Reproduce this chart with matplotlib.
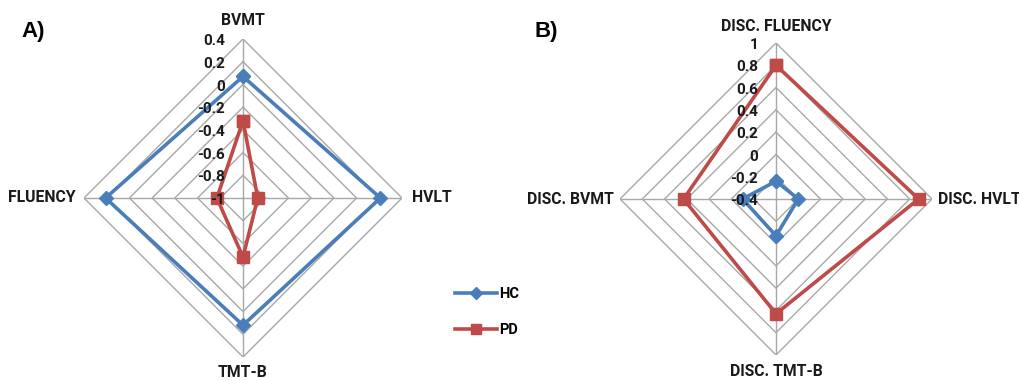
import numpy as np
import matplotlib
matplotlib.use("Agg")
import matplotlib.pyplot as plt
from matplotlib.lines import Line2D

# ---- data ----
cats_a = ["BVMT", "HVLT", "TMT-B", "FLUENCY"]
hc_a = [0.07, 0.21, 0.12, 0.21]
pd_a = [-0.32, -0.87, -0.48, -0.77]
ticks_a = [-1, -0.8, -0.6, -0.4, -0.2, 0, 0.2, 0.4]
ticklabels_a = ["-1", "-0.8", "-0.6", "-0.4", "-0.2", "0", "0.2", "0.4"]

cats_b = ["DISC. FLUENCY", "DISC. HVLT", "DISC. TMT-B", "DISC. BVMT"]
hc_b = [-0.24, -0.2, -0.07, -0.1]
pd_b = [0.8, 0.88, 0.63, 0.43]
ticks_b = [-0.4, -0.2, 0, 0.2, 0.4, 0.6, 0.8, 1]
ticklabels_b = ["-0.4", "-0.2", "0", "0.2", "0.4", "0.6", "0.8", "1"]

series_names = ["HC", "PD"]

BLUE = "#4A7EBB"
RED = "#BE4B48"
GRID = "#A8A8A8"
FONT = "Roboto"

plt.rcParams['font.family'] = [FONT, 'DejaVu Sans']

fig = plt.figure(figsize=(10.2, 3.81), dpi=100)

def radar(rect, cats, hc, pdv, ticks, ticklabels, label_offsets, panel, panel_xy):
    ax = fig.add_axes(rect, projection="polar")
    ax.set_theta_zero_location("N")
    ax.set_theta_direction(-1)
    n = len(cats)
    th = np.arange(n) * 2 * np.pi / n
    rmin, rmax = ticks[0], ticks[-1]
    ax.set_ylim(rmin, rmax)
    ax.grid(False)
    ax.set_xticks([])
    ax.set_yticks([])
    ax.spines["polar"].set_visible(False)
    ax.set_facecolor("none")
    thc = np.append(th, th[0])
    # grid rings
    for v in ticks[1:]:
        ax.plot(thc, [v] * (n + 1), color=GRID, lw=1.0, zorder=1)
    # spokes
    for t in th:
        ax.plot([t, t], [rmin, rmax], color=GRID, lw=1.0, zorder=1)
    # series
    ax.plot(thc, list(hc) + [hc[0]], color=BLUE, lw=2.6, marker="D", ms=7,
            zorder=3, clip_on=False)
    ax.plot(thc, list(pdv) + [pdv[0]], color=RED, lw=2.6, marker="s", ms=8.5,
            zorder=3, clip_on=False)
    # tick labels
    for v, lab in zip(ticks, ticklabels):
        ax.annotate(lab, xy=(0, v), xytext=(-13, -1.5), textcoords="offset points",
                    ha="right", va="center", fontsize=11, color="#1a1a1a",
                    fontweight="bold", zorder=4, annotation_clip=False)
    # category labels
    for t, c, (dx, dy, ha, va) in zip(th, cats, label_offsets):
        ax.annotate(c, xy=(t, rmax), xytext=(dx, dy), textcoords="offset points",
                    ha=ha, va=va, fontsize=11.3, fontweight="bold", color="#1a1a1a",
                    annotation_clip=False)
    fig.text(panel_xy[0], panel_xy[1], panel, fontsize=16, fontweight="bold",
             ha="left", va="center", family=["Liberation Sans", "DejaVu Sans"])
    return ax

offs_a = [(0, 13, "center", "center"), (7, 0, "left", "center"),
          (0, -11.5, "center", "center"), (-6, 0, "right", "center")]
offs_b = [(0, 12, "center", "center"), (4.5, 0, "left", "center"),
          (0, -12, "center", "center"), (-4.5, 0, "right", "center")]

radar([84 / 1020, 24 / 381, 318 / 1020, 318 / 381], cats_a, hc_a, pd_a,
      ticks_a, ticklabels_a, offs_a, "A)", (21 / 1020, 1 - 31 / 381))
radar([620 / 1020, 26 / 381, 312 / 1020, 312 / 381], cats_b, hc_b, pd_b,
      ticks_b, ticklabels_b, offs_b, "B)", (534 / 1020, 1 - 31 / 381))

handles = [Line2D([], [], color=BLUE, lw=2.6, marker="D", ms=6),
           Line2D([], [], color=RED, lw=2.6, marker="s", ms=7)]
fig.legend(handles, series_names, loc="center left",
           bbox_to_anchor=(455 / 1020, 1 - 312 / 381), frameon=False,
           handlelength=2.9, handletextpad=0.15, labelspacing=1.5,
           borderpad=0, borderaxespad=0,
           prop={"family": FONT, "weight": "bold", "size": 10.5})

fig.savefig("out.png", dpi=100, facecolor="white")
